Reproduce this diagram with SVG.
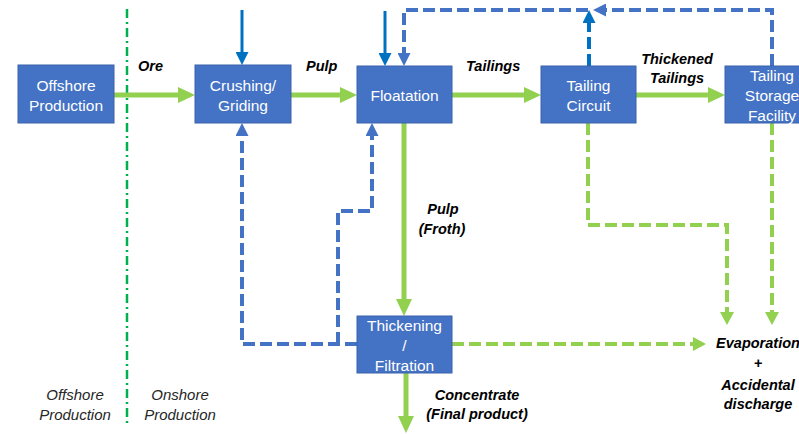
<svg xmlns="http://www.w3.org/2000/svg" width="799" height="434" viewBox="0 0 799 434">
  <style>
    .box { fill: #4472c4; stroke: #3a63ad; stroke-width: 1; }
    .btxt { font-family: "Liberation Sans", Arial, sans-serif; font-size: 15.5px; fill: #ffffff; text-anchor: middle; }
    .lbl { font-family: "Liberation Sans", Arial, sans-serif; font-size: 14.5px; font-weight: bold; font-style: italic; fill: #000000; }
    .mid { text-anchor: middle; }
    .zone { font-family: "Liberation Sans", Arial, sans-serif; font-size: 15px; font-style: italic; fill: #262626; text-anchor: middle; }
    .g { fill: none; stroke: #92d050; stroke-width: 5; }
    .gd { fill: none; stroke: #92d050; stroke-width: 4; stroke-dasharray: 12 5; }
    .bd { fill: none; stroke: #4472c4; stroke-width: 4; stroke-dasharray: 12 5; }
    .bs { fill: none; stroke: #0070c0; stroke-width: 3; }
    .bsd { fill: none; stroke: #0070c0; stroke-width: 4; stroke-dasharray: 12 5; }
  </style>
  <defs>
    <marker id="hGreen" markerUnits="userSpaceOnUse" markerWidth="17" markerHeight="16" refX="1" refY="8" orient="auto">
      <path d="M0,0 L17,8 L0,16 z" fill="#92d050"/>
    </marker>
    <marker id="hGreenS" markerUnits="userSpaceOnUse" markerWidth="13" markerHeight="14" refX="1" refY="7" orient="auto">
      <path d="M0,0 L13,7 L0,14 z" fill="#92d050"/>
    </marker>
    <marker id="hBlue" markerUnits="userSpaceOnUse" markerWidth="13" markerHeight="13" refX="1" refY="6.5" orient="auto">
      <path d="M0,0 L13,6.5 L0,13 z" fill="#4472c4"/>
    </marker>
    <marker id="hDark" markerUnits="userSpaceOnUse" markerWidth="13" markerHeight="13" refX="1" refY="6.5" orient="auto">
      <path d="M0,0 L13,6.5 L0,13 z" fill="#0070c0"/>
    </marker>
  </defs>

  <!-- offshore / onshore boundary -->
  <line x1="127" y1="9" x2="127" y2="424" stroke="#00b050" stroke-width="2.5" stroke-dasharray="9 4 2 4"/>

  <g id="connectors">
    <!-- main flow -->
    <path class="g" d="M114,95 H179" marker-end="url(#hGreen)"/>
    <path class="g" d="M291,95 H341" marker-end="url(#hGreen)"/>
    <path class="g" d="M452,95 H525" marker-end="url(#hGreen)"/>
    <path class="g" d="M636,95 H709" marker-end="url(#hGreen)"/>
    <path class="g" d="M404,123 V300" marker-end="url(#hGreen)"/>
    <path class="g" d="M406,373 V417" marker-end="url(#hGreen)"/>

    <!-- feeds from above -->
    <path class="bs" d="M242,10 V53" marker-end="url(#hDark)"/>
    <path class="bs" d="M385,11 V54" marker-end="url(#hDark)"/>

    <!-- water recycle -->
    <path class="bsd" d="M589,66 V22" marker-end="url(#hDark)"/>
    <path class="bd" d="M772,66 V10 H605" marker-end="url(#hBlue)"/>
    <path class="bd" d="M588,10 H404 V54" marker-end="url(#hBlue)"/>
    <path class="bd" d="M357,344 H242 V135" marker-end="url(#hBlue)"/>
    <path class="bd" d="M338,344 V211 H372 V135" marker-end="url(#hBlue)"/>

    <!-- losses -->
    <path class="gd" d="M588,123 V225 H727 V313" marker-end="url(#hGreenS)"/>
    <path class="gd" d="M772,123 V313" marker-end="url(#hGreenS)"/>
    <path class="gd" d="M452,344 H694" marker-end="url(#hGreenS)"/>
  </g>

  <g id="offshore">
    <rect class="box" x="18" y="65" width="96" height="58"/>
    <text class="btxt" x="66" y="91">Offshore</text>
    <text class="btxt" x="66" y="111">Production</text>
  </g>
  <g id="crushing">
    <rect class="box" x="195" y="65" width="96" height="58"/>
    <text class="btxt" x="243" y="91">Crushing/</text>
    <text class="btxt" x="243" y="111">Griding</text>
  </g>
  <g id="floatation">
    <rect class="box" x="357" y="66" width="95" height="57"/>
    <text class="btxt" x="404.5" y="101">Floatation</text>
  </g>
  <g id="tailing-circuit">
    <rect class="box" x="541" y="66" width="95" height="57"/>
    <text class="btxt" x="588.5" y="91">Tailing</text>
    <text class="btxt" x="588.5" y="111">Circuit</text>
  </g>
  <g id="tailing-storage">
    <rect class="box" x="725" y="66" width="95" height="57"/>
    <text class="btxt" x="772" y="81">Tailing</text>
    <text class="btxt" x="772" y="101">Storage</text>
    <text class="btxt" x="772" y="121">Facility</text>
  </g>
  <g id="thickening">
    <rect class="box" x="357" y="316" width="95" height="57"/>
    <text class="btxt" x="404.5" y="331">Thickening</text>
    <text class="btxt" x="404.5" y="351">/</text>
    <text class="btxt" x="404.5" y="371">Filtration</text>
  </g>

  <g id="labels">
    <text class="lbl" x="138" y="71">Ore</text>
    <text class="lbl" x="306" y="71">Pulp</text>
    <text class="lbl" x="466" y="71">Tailings</text>
    <text class="lbl mid" x="677" y="64">Thickened</text>
    <text class="lbl mid" x="677" y="83">Tailings</text>
    <text class="lbl mid" x="443" y="214">Pulp</text>
    <text class="lbl mid" x="442" y="234">(Froth)</text>
    <text class="lbl mid" x="477" y="400">Concentrate</text>
    <text class="lbl mid" x="477" y="419">(Final product)</text>
  </g>

  <g id="evaporation">
    <text class="lbl mid" x="758" y="348">Evaporation</text>
    <text class="lbl mid" x="758" y="368">+</text>
    <text class="lbl mid" x="758" y="390">Accidental</text>
    <text class="lbl mid" x="758" y="409">discharge</text>
  </g>

  <g id="zones">
    <text class="zone" x="75" y="400">Offshore</text>
    <text class="zone" x="75" y="420">Production</text>
    <text class="zone" x="180" y="400">Onshore</text>
    <text class="zone" x="180" y="420">Production</text>
  </g>
</svg>
